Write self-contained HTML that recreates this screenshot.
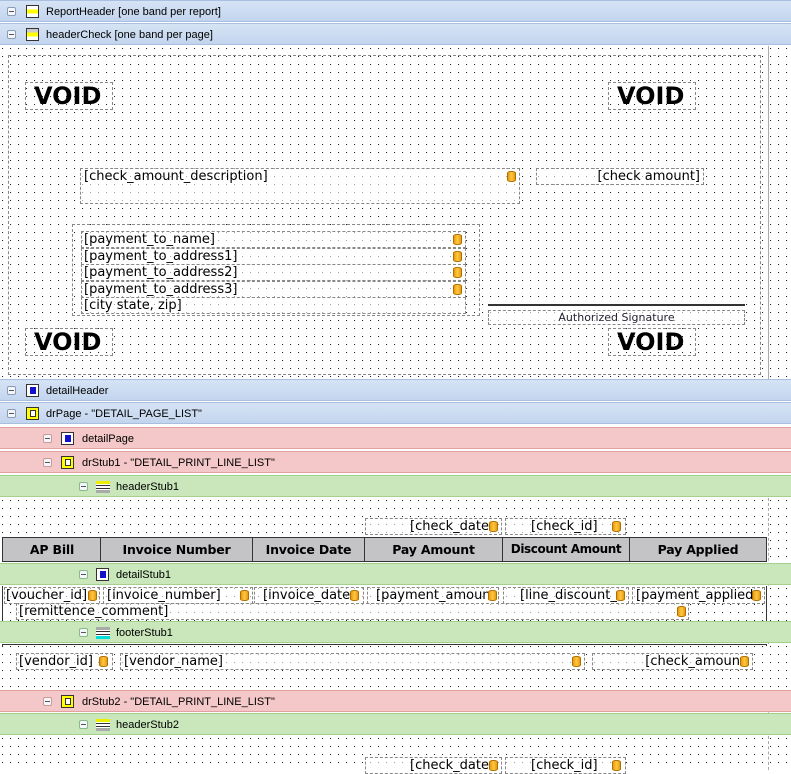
<!DOCTYPE html>
<html><head><meta charset="utf-8"><style>
*{margin:0;padding:0;box-sizing:border-box}
body{width:791px;height:770px;position:relative;overflow:hidden;background:#fff;font-family:"DejaVu Sans","Liberation Sans",sans-serif;}
.a{position:absolute}
.canvas{position:absolute;left:0;width:791px;background-color:#fff;background-image:linear-gradient(90deg,#000 1px,transparent 1px),linear-gradient(#fff 0,#fff 0);background-image:radial-gradient(circle at 0.5px 0.5px,#222 0.7px,transparent 0.8px);background-size:8px 8px;background-position:2px 2px}
.band{position:absolute;left:0;width:791px;height:22px;font-size:11px;line-height:22px;color:#000;font-family:"Liberation Sans",sans-serif}
.blue{background:linear-gradient(#d6e3f5,#c3d5ee);border-top:1px solid #a9bfdf;border-bottom:1px solid #a9bfdf}
.pink{background:#f4c8c8;border-top:1px solid #e3a0a0;border-bottom:1px solid #e3a0a0}
.green{background:#c9e7bb;border-top:1px solid #a4d08e;border-bottom:1px solid #a4d08e}
.tg{position:absolute;top:6px;width:9px;height:9px;border:1px solid #8a9cb8;border-radius:2px;background:#f4f7fb}
.tg:after{content:"";position:absolute;left:1px;top:3px;width:5px;height:1px;background:#555}
.ic{position:absolute;top:4px;width:13px;height:13px;border:1px solid #333;background:#fff}
.fld{position:absolute;border:1px dashed #888;font-size:13px;line-height:15px;color:#000;white-space:nowrap;overflow:hidden;background:rgba(255,255,255,0.6)}
.db{position:absolute;width:9px;height:11px;background:linear-gradient(90deg,#e99a10,#ffc842,#e99a10);border:1px solid #b07000;border-radius:4px/2px}
.void{position:absolute;border:1px dashed #888;font-weight:bold;font-size:24px;line-height:26px;padding-left:8px;font-family:"DejaVu Sans",sans-serif}
.th{position:absolute;top:537px;height:25px;background:#c4c3c6;border:1px solid #333;font-weight:bold;font-size:12.5px;line-height:23px;text-align:center;white-space:nowrap;overflow:hidden;letter-spacing:-0.2px}
</style></head><body>

<div class="band blue" style="top:0"><div class="tg" style="left:7px"></div><div class="ic" style="left:26px;background:linear-gradient(#fff 30%,#ff0 30%,#ff0 70%,#fff 70%)"></div><span class="a" style="left:46px">ReportHeader [one band per report]</span></div>
<div class="band blue" style="top:23px"><div class="tg" style="left:7px"></div><div class="ic" style="left:26px;background:linear-gradient(#ccc 30%,#ff0 30%,#ff0 70%,#fff 70%)"></div><span class="a" style="left:46px">headerCheck [one band per page]</span></div>

<div class="canvas" style="top:46px;height:333px"></div>
<div class="a" style="left:8px;top:55px;width:753px;height:320px;border:1px dashed #888"></div>
<div class="a" style="left:768px;top:46px;width:1px;height:333px;background:#aaa"></div>
<div class="void" style="left:25px;top:82px;width:88px;height:28px">VOID</div>
<div class="void" style="left:608px;top:82px;width:88px;height:28px">VOID</div>
<div class="void" style="left:25px;top:328px;width:88px;height:28px">VOID</div>
<div class="void" style="left:608px;top:328px;width:88px;height:28px">VOID</div>
<div class="fld" style="left:80px;top:168px;width:440px;height:36px;padding-left:3px">[check_amount_description]</div>
<div class="db" style="left:507px;top:171px"></div>
<div class="fld" style="left:536px;top:168px;width:168px;height:17px;text-align:right;padding-right:3px">[check amount]</div>
<div class="a" style="left:72px;top:224px;width:408px;height:92px;border:1px dashed #888"></div>
<div class="fld" style="left:81px;top:231px;width:385px;height:17px;padding-left:2px">[payment_to_name]</div>
<div class="fld" style="left:81px;top:248px;width:385px;height:17px;padding-left:2px">[payment_to_address1]</div>
<div class="fld" style="left:81px;top:264px;width:385px;height:17px;padding-left:2px">[payment_to_address2]</div>
<div class="fld" style="left:81px;top:281px;width:385px;height:17px;padding-left:2px">[payment_to_address3]</div>
<div class="fld" style="left:81px;top:297px;width:385px;height:17px;padding-left:2px">[city state, zip]</div>
<div class="db" style="left:453px;top:234px"></div><div class="db" style="left:453px;top:251px"></div><div class="db" style="left:453px;top:267px"></div><div class="db" style="left:453px;top:284px"></div>
<div class="a" style="left:488px;top:304px;width:257px;height:2px;border-top:1px solid #333;border-bottom:1px solid #333"></div>
<div class="fld" style="left:488px;top:310px;width:257px;height:15px;font-size:11px;line-height:13px;text-align:center;color:#223">Authorized Signature</div>

<div class="band blue" style="top:379px"><div class="tg" style="left:7px"></div><div class="ic" style="left:26px"><div class="a" style="left:3px;top:2px;width:6px;height:7px;background:#11c"></div></div><span class="a" style="left:46px">detailHeader</span></div>
<div class="band blue" style="top:402px"><div class="tg" style="left:7px"></div><div class="ic" style="left:26px;background:#ff0"><div class="a" style="left:3px;top:2px;width:6px;height:7px;border:1px solid #333;background:#fff"></div></div><span class="a" style="left:46px">drPage - "DETAIL_PAGE_LIST"</span></div>
<div class="band pink" style="top:427px"><div class="tg" style="left:43px;border-color:#c99"></div><div class="ic" style="left:61px"><div class="a" style="left:3px;top:2px;width:6px;height:7px;background:#11c"></div></div><span class="a" style="left:82px">detailPage</span></div>
<div class="band pink" style="top:451px"><div class="tg" style="left:43px;border-color:#c99"></div><div class="ic" style="left:61px;background:#ff0"><div class="a" style="left:3px;top:2px;width:6px;height:7px;border:1px solid #333;background:#fff"></div></div><span class="a" style="left:82px">drStub1 - "DETAIL_PRINT_LINE_LIST"</span></div>
<div class="band green" style="top:475px"><div class="tg" style="left:79px;border-color:#8b8"></div><div class="a" style="left:96px;top:5px;width:14px;height:12px;background:linear-gradient(#ee0 0,#ee0 3px,#fff 3px,#fff 4px,#333 4px,#333 5px,#fff 5px,#fff 7px,#333 7px,#333 8px,#fff 8px,#fff 9px,#aaa 9px)"></div><span class="a" style="left:116px">headerStub1</span></div>

<div class="canvas" style="top:498px;height:66px"></div>
<div class="a" style="left:768px;top:498px;width:1px;height:272px;border-left:1px dashed #aaa"></div>
<div class="fld" style="left:365px;top:518px;width:137px;height:17px;text-align:right;padding-right:12px">[check_date</div><div class="db" style="left:489px;top:521px"></div>
<div class="fld" style="left:505px;top:518px;width:121px;height:17px;padding-left:25px">[check_id]</div><div class="db" style="left:612px;top:521px"></div>
<div class="th" style="left:2px;width:100px">AP Bill</div>
<div class="th" style="left:100px;width:153px">Invoice Number</div>
<div class="th" style="left:252px;width:113px">Invoice Date</div>
<div class="th" style="left:364px;width:139px">Pay Amount</div>
<div class="th" style="left:502px;width:128px;font-size:12px;letter-spacing:-0.4px">Discount Amount</div>
<div class="th" style="left:629px;width:138px">Pay Applied</div>

<div class="band green" style="top:563px"><div class="tg" style="left:79px;border-color:#8b8"></div><div class="ic" style="left:96px"><div class="a" style="left:3px;top:2px;width:6px;height:7px;background:#11c"></div></div><span class="a" style="left:116px">detailStub1</span></div>
<div class="canvas" style="top:586px;height:36px"></div>
<div class="a" style="left:2px;top:586px;width:765px;height:36px;border-left:1px solid #333;border-right:1px solid #333"></div>
<div class="fld" style="left:4px;top:587px;width:96px;height:17px;padding-left:1px">[voucher_id]</div><div class="db" style="left:88px;top:590px"></div>
<div class="fld" style="left:103px;top:587px;width:150px;height:17px;padding-left:3px">[invoice_number]</div><div class="db" style="left:240px;top:590px"></div>
<div class="fld" style="left:254px;top:587px;width:110px;height:17px;padding-left:8px">[invoice_date</div><div class="db" style="left:350px;top:590px"></div>
<div class="fld" style="left:367px;top:587px;width:132px;height:17px;padding-left:8px">[payment_amoun</div><div class="db" style="left:488px;top:590px"></div>
<div class="fld" style="left:503px;top:587px;width:126px;height:17px;padding-left:16px">[line_discount_</div><div class="db" style="left:616px;top:590px"></div>
<div class="fld" style="left:632px;top:587px;width:133px;height:17px;padding-left:3px">[payment_applied</div><div class="db" style="left:752px;top:590px"></div>
<div class="fld" style="left:16px;top:603px;width:673px;height:17px;padding-left:2px">[remittence_comment]</div><div class="db" style="left:677px;top:606px"></div>

<div class="band green" style="top:621px"><div class="tg" style="left:79px;border-color:#8b8"></div><div class="a" style="left:96px;top:5px;width:14px;height:12px;background:linear-gradient(#aaa 0,#aaa 3px,#fff 3px,#fff 4px,#333 4px,#333 5px,#fff 5px,#fff 7px,#333 7px,#333 8px,#fff 8px,#fff 9px,#0dd 9px)"></div><span class="a" style="left:116px">footerStub1</span></div>
<div class="canvas" style="top:644px;height:46px"></div>
<div class="a" style="left:2px;top:644px;width:765px;height:2px;border-top:1px solid #333;border-left:1px solid #333;border-right:1px solid #333"></div>
<div class="fld" style="left:16px;top:653px;width:97px;height:17px;padding-left:2px">[vendor_id]</div><div class="db" style="left:99px;top:656px"></div>
<div class="fld" style="left:120px;top:653px;width:465px;height:17px;padding-left:3px">[vendor_name]</div><div class="db" style="left:572px;top:656px"></div>
<div class="fld" style="left:592px;top:653px;width:161px;height:17px;text-align:right;padding-right:12px">[check_amoun</div><div class="db" style="left:740px;top:656px"></div>

<div class="band pink" style="top:690px"><div class="tg" style="left:43px;border-color:#c99"></div><div class="ic" style="left:61px;background:#ff0"><div class="a" style="left:3px;top:2px;width:6px;height:7px;border:1px solid #333;background:#fff"></div></div><span class="a" style="left:82px">drStub2 - "DETAIL_PRINT_LINE_LIST"</span></div>
<div class="band green" style="top:713px"><div class="tg" style="left:79px;border-color:#8b8"></div><div class="a" style="left:96px;top:5px;width:14px;height:12px;background:linear-gradient(#ee0 0,#ee0 3px,#fff 3px,#fff 4px,#333 4px,#333 5px,#fff 5px,#fff 7px,#333 7px,#333 8px,#fff 8px,#fff 9px,#aaa 9px)"></div><span class="a" style="left:116px">headerStub2</span></div>
<div class="canvas" style="top:736px;height:34px"></div>
<div class="a" style="left:768px;top:736px;width:1px;height:34px;border-left:1px dashed #aaa"></div>
<div class="fld" style="left:365px;top:757px;width:137px;height:17px;text-align:right;padding-right:12px">[check_date</div><div class="db" style="left:489px;top:760px"></div>
<div class="fld" style="left:505px;top:757px;width:121px;height:17px;padding-left:25px">[check_id]</div><div class="db" style="left:612px;top:760px"></div>
</body></html>
